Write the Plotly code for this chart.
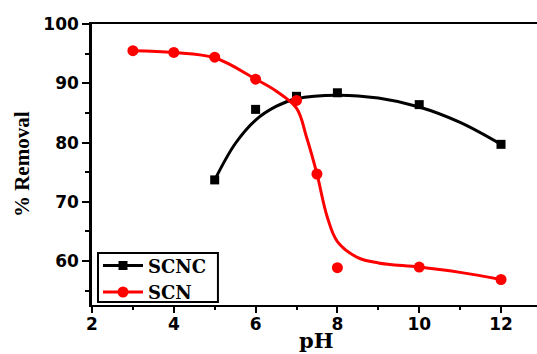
import plotly.graph_objects as go

# Measured data points
ph_scnc = [5, 6, 7, 8, 10, 12]
rem_scnc = [73.7, 85.6, 87.8, 88.4, 86.4, 79.7]

ph_scn = [3, 4, 5, 6, 7, 7.5, 8, 10, 12]
rem_scn = [95.5, 95.2, 94.4, 90.7, 87.1, 74.7, 58.9, 59.0, 56.9]

# Smoothed fit curves
fit_scnc_x = [5, 5.5, 6, 6.5, 7, 8, 9, 10, 11, 12]
fit_scnc_y = [73.7, 79.8, 83.8, 86.1, 87.4, 88.0, 87.5, 86.0, 83.4, 79.7]

fit_scn_x = [3, 4, 5, 6, 6.5, 7, 7.25, 7.5, 7.75, 8, 8.5, 9, 10, 11, 12]
fit_scn_y = [95.5, 95.2, 94.3, 90.7, 88.7, 85.8, 80.8, 74.7, 67.5, 63.3, 60.6, 59.7, 59.0, 58.1, 56.9]

x_ticks = [2, 4, 6, 8, 10, 12]
y_ticks = [60, 70, 80, 90, 100]

fig = go.Figure()

# SCNC
fig.add_trace(go.Scatter(x=fit_scnc_x, y=fit_scnc_y, mode="lines",
                         line=dict(color="black", width=3, shape="spline", smoothing=1.0),
                         showlegend=False, hoverinfo="skip"))
fig.add_trace(go.Scatter(x=ph_scnc, y=rem_scnc, mode="markers",
                         marker=dict(symbol="square", size=9, color="black"),
                         showlegend=False))
# SCN
fig.add_trace(go.Scatter(x=fit_scn_x, y=fit_scn_y, mode="lines",
                         line=dict(color="#ff0000", width=3, shape="spline", smoothing=1.0),
                         showlegend=False, hoverinfo="skip"))
fig.add_trace(go.Scatter(x=ph_scn, y=rem_scn, mode="markers",
                         marker=dict(symbol="circle", size=11, color="#ff0000"),
                         showlegend=False))

# legend entries
fig.add_trace(go.Scatter(x=[None], y=[None], mode="lines+markers", name="SCNC",
                         line=dict(color="black", width=3),
                         marker=dict(symbol="square", size=9, color="black")))
fig.add_trace(go.Scatter(x=[None], y=[None], mode="lines+markers", name="SCN",
                         line=dict(color="#ff0000", width=3),
                         marker=dict(symbol="circle", size=11, color="#ff0000")))

tickfont = dict(family="DejaVu Sans", size=17, color="black", weight="bold")

fig.update_layout(
    width=537, height=354,
    margin=dict(l=92, r=0, t=24, b=49),
    paper_bgcolor="white", plot_bgcolor="white",
    showlegend=True,
    legend=dict(x=0.0135, y=0.205, xanchor="left", yanchor="top",
                borderwidth=0, bgcolor="rgba(0,0,0,0)",
                font=dict(family="DejaVu Serif", size=18, color="black", weight="bold"),
                tracegroupgap=0, itemwidth=40),
    shapes=[dict(type="rect", xref="paper", yref="paper",
                 x0=0.0135, x1=0.283, y0=0.0107, y1=0.185,
                 line=dict(color="black", width=2), fillcolor="rgba(0,0,0,0)", layer="above")],
    xaxis=dict(range=[2, 12.88], tickvals=x_ticks, ticks="outside", ticklen=6, tickwidth=2,
               tickcolor="black", showline=True, linecolor="black", linewidth=2,
               mirror=True, showgrid=False, zeroline=False, tickfont=tickfont,
               ticklabelstandoff=-3,
               minor=dict(dtick=1, tick0=1, ticks="outside", ticklen=3, tickwidth=2, tickcolor="black"),
               automargin=False),
    yaxis=dict(range=[52.6, 100], tickvals=y_ticks, ticks="outside", ticklen=7, tickwidth=2,
               tickcolor="black", showline=True, linecolor="black", linewidth=2.5,
               mirror=False, showgrid=False, zeroline=False, tickfont=tickfont,
               minor=dict(dtick=5, tick0=0, ticks="outside", ticklen=4, tickwidth=2, tickcolor="black"),
               automargin=False),
    annotations=[
        dict(text="% Removal", xref="paper", yref="paper", x=-0.157, y=0.502,
             textangle=-90, showarrow=False, xanchor="center", yanchor="middle",
             font=dict(family="Liberation Serif", size=21, color="black", weight="bold")),
        dict(text="pH", xref="paper", yref="paper", x=0.5056, y=-0.1744,
             showarrow=False, xanchor="center", yanchor="bottom", borderpad=0,
             font=dict(family="DejaVu Serif", size=21, color="black", weight="bold")),
    ],
)

fig.write_html("out.html")
